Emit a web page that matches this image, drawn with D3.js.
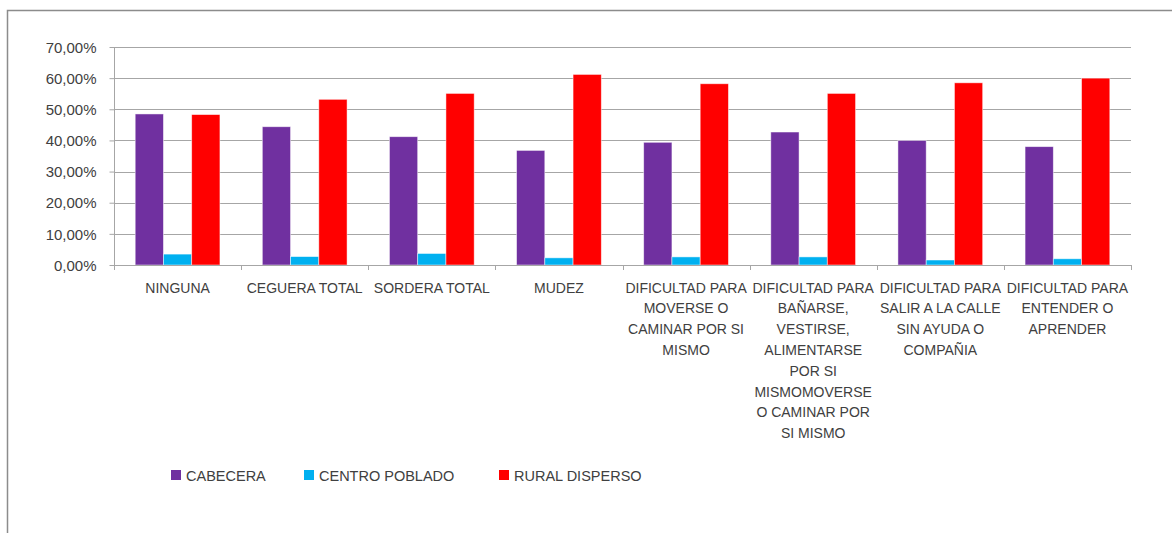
<!DOCTYPE html>
<html>
<head>
  <meta charset="utf-8">
  <style>
    body { margin: 0; padding: 0; background: white; font-family: "Liberation Sans", Arial, sans-serif; }
    .grid line { stroke: #a6a6a6; stroke-width: 1; }
    .axis text { fill: #404040; font-size: 14px; }
    .legend text { fill: #404040; font-size: 14.5px; }
  </style>
</head>
<body>
  <div id="chart"></div>
  <script src="https://d3js.org/d3.v7.min.js"></script>
  <script>
    // categories, with the line breaks as they show in the chart
    var categories = [
      ["NINGUNA"],
      ["CEGUERA TOTAL"],
      ["SORDERA TOTAL"],
      ["MUDEZ"],
      ["DIFICULTAD PARA", "MOVERSE O", "CAMINAR POR SI", "MISMO"],
      ["DIFICULTAD PARA", "BAÑARSE,", "VESTIRSE,", "ALIMENTARSE", "POR SI", "MISMOMOVERSE", "O CAMINAR POR", "SI MISMO"],
      ["DIFICULTAD PARA", "SALIR A LA CALLE", "SIN AYUDA O", "COMPAÑIA"],
      ["DIFICULTAD PARA", "ENTENDER O", "APRENDER"]
    ]

    var seriesNames = ["CABECERA", "CENTRO POBLADO", "RURAL DISPERSO"]
    var seriesColors = ["#7030a0", "#00b0f0", "#ff0000"]

    var cabecera = [48.5, 44.4, 41.2, 36.8, 39.4, 42.7, 40.0, 38.0]
    var centroPoblado = [3.5, 2.7, 3.7, 2.3, 2.6, 2.6, 1.6, 2.0]
    var ruralDisperso = [48.3, 53.2, 55.1, 61.2, 58.2, 55.1, 58.5, 60.0]

    var yTicks = [0, 10, 20, 30, 40, 50, 60, 70]

    var series = [cabecera, centroPoblado, ruralDisperso]

    drawChart()

    function drawChart() {
      var width = 1172,
        height = 533

      var svg = d3.select("#chart").append("svg")
        .attr("width", width)
        .attr("height", height)

      // chart area border (open on the right and bottom, as cropped)
      svg.append("rect")
        .attr("x", 7.5).attr("y", 10.5)
        .attr("width", 1200).attr("height", 600)
        .attr("fill", "white")
        .attr("stroke", "#8c8c8c")
        .attr("stroke-width", 1.5)

      var plotLeft = 114, plotRight = 1131, plotTop = 47, plotBottom = 265

      var x = d3.scaleBand()
        .domain(d3.range(categories.length))
        .range([plotLeft, plotRight])

      var y = d3.scaleLinear()
        .domain([0, 70])
        .range([plotBottom, plotTop])

      // gridlines
      svg.append("g")
        .attr("class", "grid")
        .selectAll("line")
        .data(yTicks.slice(1))
        .enter().append("line")
        .attr("x1", plotLeft).attr("x2", plotRight)
        .attr("y1", function(d) { return Math.round(y(d)) + 0.5 })
        .attr("y2", function(d) { return Math.round(y(d)) + 0.5 })

      // y axis
      var yAxis = svg.append("g")
        .attr("class", "axis")
        .attr("transform", "translate(" + (plotLeft + 0.5) + ",0)")
        .call(d3.axisLeft(y).tickValues(yTicks).tickSize(5).tickPadding(13)
          .tickFormat(function(d) { return d3.format(".2f")(d).replace(".", ",") + "%" }))
        .attr("font-family", "Liberation Sans, Arial, sans-serif")
      yAxis.select(".domain").attr("stroke", "#a6a6a6").attr("d", "M0," + plotTop + "V" + (plotBottom + 5))
      yAxis.selectAll(".tick line").attr("stroke", "#a6a6a6")
      yAxis.selectAll(".tick text").style("font-size", "15px").attr("dy", "0.35em")

      // bars: gap width 150%
      var inner = d3.scaleBand()
        .domain(d3.range(series.length))
        .range([0, x.bandwidth()])
        .paddingOuter(0.75)
        .paddingInner(0)

      var groups = svg.append("g")
        .selectAll("g")
        .data(series)
        .enter().append("g")
        .attr("fill", function(d, i) { return seriesColors[i] })

      groups.selectAll("rect")
        .data(function(d, i) { return d.map(function(v, j) { return { s: i, c: j, v: v } }) })
        .enter().append("rect")
        .attr("x", function(d) { return x(d.c) + inner(d.s) })
        .attr("width", inner.bandwidth())
        .attr("y", function(d) { return y(d.v) })
        .attr("height", function(d) { return plotBottom - y(d.v) })
        .attr("stroke", "white")
        .attr("stroke-opacity", 0.6)
        .attr("stroke-width", 0.8)

      // x axis baseline and category ticks
      var xAxis = svg.append("g").attr("stroke", "#a6a6a6")
      xAxis.append("line")
        .attr("x1", plotLeft).attr("x2", plotRight)
        .attr("y1", plotBottom + 0.5).attr("y2", plotBottom + 0.5)
      xAxis.selectAll(".ct")
        .data(d3.range(categories.length + 1))
        .enter().append("line")
        .attr("x1", function(d) { return Math.round(plotLeft + d * x.step()) + 0.5 })
        .attr("x2", function(d) { return Math.round(plotLeft + d * x.step()) + 0.5 })
        .attr("y1", plotBottom).attr("y2", plotBottom + 5)

      // category labels
      var labels = svg.append("g").attr("class", "axis")
        .selectAll("text")
        .data(categories)
        .enter().append("text")
        .attr("text-anchor", "middle")
        .attr("x", function(d, i) { return x(i) + x.bandwidth() / 2 })
        .attr("y", 292.5)
      labels.selectAll("tspan")
        .data(function(d) { return d })
        .enter().append("tspan")
        .attr("x", function() { return d3.select(this.parentNode).attr("x") })
        .attr("dy", function(d, i) { return i === 0 ? 0 : 20.8 })
        .text(function(d) { return d })

      // legend
      var legendX = [171, 304, 499]
      var legend = svg.append("g")
        .attr("class", "legend")
        .selectAll("g")
        .data(seriesNames)
        .enter().append("g")
        .attr("transform", function(d, i) { return "translate(" + legendX[i] + ",470)" })
      legend.append("rect")
        .attr("width", 10).attr("height", 10)
        .attr("fill", function(d, i) { return seriesColors[i] })
      legend.append("text")
        .attr("x", 15).attr("y", 10.5)
        .text(function(d) { return d })
    }
  </script>
</body>
</html>
